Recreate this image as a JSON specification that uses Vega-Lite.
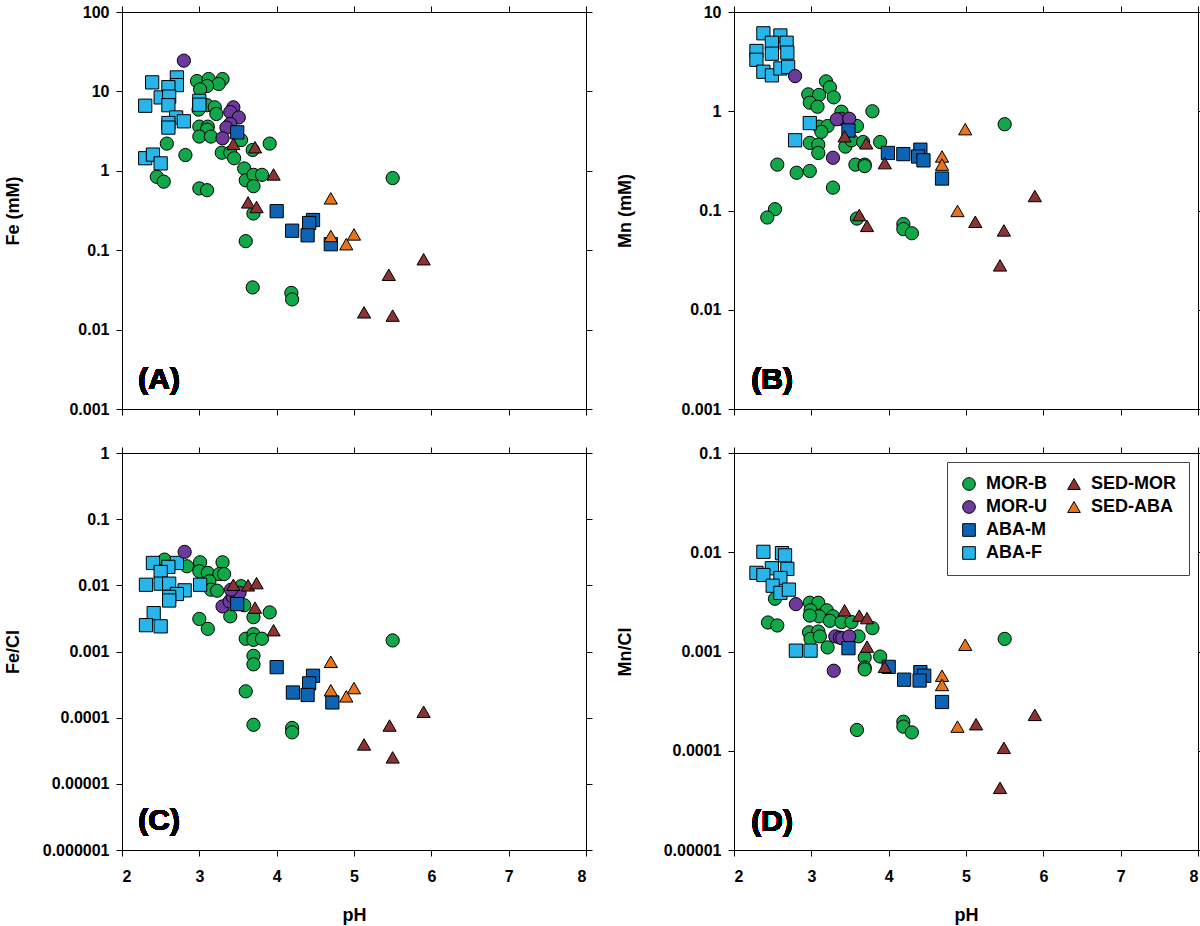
{
  "$schema": "https://vega.github.io/schema/vega-lite/v6.json",
  "padding": {"left": 3, "top": 3, "right": 0, "bottom": 0},
  "background": "white",
  "data": {"values": [
    {"p":"A","g":"MOR-B","pH":2.97,"v":13.5},{"p":"A","g":"MOR-B","pH":3.12,"v":14.3},{"p":"A","g":"MOR-B","pH":3.30,"v":14.3},{"p":"A","g":"MOR-B","pH":3.25,"v":12.4},{"p":"A","g":"MOR-B","pH":3.10,"v":11.7},{"p":"A","g":"MOR-B","pH":3.01,"v":10.6},{"p":"A","g":"MOR-B","pH":3.10,"v":6.7},{"p":"A","g":"MOR-B","pH":3.20,"v":6.3},{"p":"A","g":"MOR-B","pH":3.22,"v":5.2},{"p":"A","g":"MOR-B","pH":2.99,"v":5.9},{"p":"A","g":"MOR-B","pH":3.00,"v":3.6},{"p":"A","g":"MOR-B","pH":3.11,"v":3.6},{"p":"A","g":"MOR-B","pH":3.10,"v":3.3},{"p":"A","g":"MOR-B","pH":3.00,"v":2.7},{"p":"A","g":"MOR-B","pH":3.15,"v":2.7},{"p":"A","g":"MOR-B","pH":2.58,"v":2.2},{"p":"A","g":"MOR-B","pH":2.82,"v":1.58},{"p":"A","g":"MOR-B","pH":2.45,"v":0.84},{"p":"A","g":"MOR-B","pH":2.54,"v":0.73},{"p":"A","g":"MOR-B","pH":3.00,"v":0.60},{"p":"A","g":"MOR-B","pH":3.10,"v":0.57},{"p":"A","g":"MOR-B","pH":3.54,"v":2.44},{"p":"A","g":"MOR-B","pH":3.29,"v":1.69},{"p":"A","g":"MOR-B","pH":3.40,"v":1.69},{"p":"A","g":"MOR-B","pH":3.45,"v":1.44},{"p":"A","g":"MOR-B","pH":3.69,"v":1.83},{"p":"A","g":"MOR-B","pH":3.91,"v":2.2},{"p":"A","g":"MOR-B","pH":3.58,"v":1.07},{"p":"A","g":"MOR-B","pH":3.60,"v":0.76},{"p":"A","g":"MOR-B","pH":3.70,"v":0.89},{"p":"A","g":"MOR-B","pH":3.81,"v":0.89},{"p":"A","g":"MOR-B","pH":3.70,"v":0.64},{"p":"A","g":"MOR-B","pH":3.70,"v":0.29},{"p":"A","g":"MOR-B","pH":5.50,"v":0.81},{"p":"A","g":"MOR-B","pH":3.60,"v":0.13},{"p":"A","g":"MOR-B","pH":3.69,"v":0.034},{"p":"A","g":"MOR-B","pH":4.19,"v":0.029},{"p":"A","g":"MOR-B","pH":4.20,"v":0.024},
    {"p":"A","g":"ABA-F","pH":2.39,"v":13},{"p":"A","g":"ABA-F","pH":2.71,"v":15},{"p":"A","g":"ABA-F","pH":2.71,"v":12},{"p":"A","g":"ABA-F","pH":2.60,"v":11.3},{"p":"A","g":"ABA-F","pH":2.50,"v":8.4},{"p":"A","g":"ABA-F","pH":2.61,"v":8.6},{"p":"A","g":"ABA-F","pH":2.60,"v":6.7},{"p":"A","g":"ABA-F","pH":2.30,"v":6.6},{"p":"A","g":"ABA-F","pH":3.00,"v":7.6},{"p":"A","g":"ABA-F","pH":3.00,"v":6.8},{"p":"A","g":"ABA-F","pH":2.70,"v":4.7},{"p":"A","g":"ABA-F","pH":2.80,"v":4.2},{"p":"A","g":"ABA-F","pH":2.60,"v":4.0},{"p":"A","g":"ABA-F","pH":2.60,"v":3.5},{"p":"A","g":"ABA-F","pH":2.30,"v":1.44},{"p":"A","g":"ABA-F","pH":2.40,"v":1.6},{"p":"A","g":"ABA-F","pH":2.50,"v":1.24},
    {"p":"A","g":"MOR-U","pH":2.80,"v":24.4},{"p":"A","g":"MOR-U","pH":3.44,"v":6.3},{"p":"A","g":"MOR-U","pH":3.40,"v":5.5},{"p":"A","g":"MOR-U","pH":3.51,"v":4.7},{"p":"A","g":"MOR-U","pH":3.40,"v":3.9},{"p":"A","g":"MOR-U","pH":3.35,"v":3.5},{"p":"A","g":"MOR-U","pH":3.30,"v":2.57},
    {"p":"A","g":"ABA-M","pH":3.49,"v":3.05},{"p":"A","g":"ABA-M","pH":4.00,"v":0.31},{"p":"A","g":"ABA-M","pH":4.47,"v":0.24},{"p":"A","g":"ABA-M","pH":4.42,"v":0.22},{"p":"A","g":"ABA-M","pH":4.20,"v":0.176},{"p":"A","g":"ABA-M","pH":4.40,"v":0.154},{"p":"A","g":"ABA-M","pH":4.70,"v":0.119},
    {"p":"A","g":"SED-MOR","pH":3.44,"v":2.18},{"p":"A","g":"SED-MOR","pH":3.72,"v":1.98},{"p":"A","g":"SED-MOR","pH":3.96,"v":0.90},{"p":"A","g":"SED-MOR","pH":3.63,"v":0.40},{"p":"A","g":"SED-MOR","pH":3.74,"v":0.35},{"p":"A","g":"SED-MOR","pH":5.90,"v":0.077},{"p":"A","g":"SED-MOR","pH":5.45,"v":0.049},{"p":"A","g":"SED-MOR","pH":5.13,"v":0.0165},{"p":"A","g":"SED-MOR","pH":5.50,"v":0.015},
    {"p":"A","g":"SED-ABA","pH":4.70,"v":0.45},{"p":"A","g":"SED-ABA","pH":4.70,"v":0.151},{"p":"A","g":"SED-ABA","pH":5.00,"v":0.158},{"p":"A","g":"SED-ABA","pH":4.90,"v":0.119},

    {"p":"B","g":"MOR-B","pH":3.19,"v":2.0},{"p":"B","g":"MOR-B","pH":3.24,"v":1.74},{"p":"B","g":"MOR-B","pH":2.96,"v":1.48},{"p":"B","g":"MOR-B","pH":3.10,"v":1.46},{"p":"B","g":"MOR-B","pH":3.29,"v":1.38},{"p":"B","g":"MOR-B","pH":2.98,"v":1.22},{"p":"B","g":"MOR-B","pH":3.08,"v":1.11},{"p":"B","g":"MOR-B","pH":3.79,"v":1.0},{"p":"B","g":"MOR-B","pH":3.39,"v":0.99},{"p":"B","g":"MOR-B","pH":3.59,"v":0.71},{"p":"B","g":"MOR-B","pH":3.10,"v":0.70},{"p":"B","g":"MOR-B","pH":3.21,"v":0.71},{"p":"B","g":"MOR-B","pH":3.13,"v":0.62},{"p":"B","g":"MOR-B","pH":2.98,"v":0.48},{"p":"B","g":"MOR-B","pH":3.09,"v":0.46},{"p":"B","g":"MOR-B","pH":3.09,"v":0.38},{"p":"B","g":"MOR-B","pH":3.44,"v":0.44},{"p":"B","g":"MOR-B","pH":3.52,"v":0.51},{"p":"B","g":"MOR-B","pH":3.67,"v":0.49},{"p":"B","g":"MOR-B","pH":3.89,"v":0.49},{"p":"B","g":"MOR-B","pH":2.56,"v":0.29},{"p":"B","g":"MOR-B","pH":2.81,"v":0.24},{"p":"B","g":"MOR-B","pH":2.98,"v":0.25},{"p":"B","g":"MOR-B","pH":3.28,"v":0.17},{"p":"B","g":"MOR-B","pH":3.57,"v":0.29},{"p":"B","g":"MOR-B","pH":3.69,"v":0.29},{"p":"B","g":"MOR-B","pH":3.69,"v":0.28},{"p":"B","g":"MOR-B","pH":2.53,"v":0.103},{"p":"B","g":"MOR-B","pH":2.43,"v":0.085},{"p":"B","g":"MOR-B","pH":3.59,"v":0.083},{"p":"B","g":"MOR-B","pH":4.19,"v":0.073},{"p":"B","g":"MOR-B","pH":4.19,"v":0.065},{"p":"B","g":"MOR-B","pH":4.30,"v":0.059},{"p":"B","g":"MOR-B","pH":5.50,"v":0.74},
    {"p":"B","g":"ABA-F","pH":2.38,"v":6.1},{"p":"B","g":"ABA-F","pH":2.60,"v":5.8},{"p":"B","g":"ABA-F","pH":2.49,"v":4.9},{"p":"B","g":"ABA-F","pH":2.68,"v":4.9},{"p":"B","g":"ABA-F","pH":2.29,"v":4.05},{"p":"B","g":"ABA-F","pH":2.49,"v":3.8},{"p":"B","g":"ABA-F","pH":2.69,"v":3.9},{"p":"B","g":"ABA-F","pH":2.29,"v":3.3},{"p":"B","g":"ABA-F","pH":2.38,"v":2.5},{"p":"B","g":"ABA-F","pH":2.49,"v":2.3},{"p":"B","g":"ABA-F","pH":2.60,"v":2.7},{"p":"B","g":"ABA-F","pH":2.70,"v":2.8},{"p":"B","g":"ABA-F","pH":2.98,"v":0.76},{"p":"B","g":"ABA-F","pH":2.79,"v":0.51},
    {"p":"B","g":"MOR-U","pH":2.79,"v":2.26},{"p":"B","g":"MOR-U","pH":3.39,"v":0.84},{"p":"B","g":"MOR-U","pH":3.33,"v":0.83},{"p":"B","g":"MOR-U","pH":3.49,"v":0.84},{"p":"B","g":"MOR-U","pH":3.28,"v":0.34},
    {"p":"B","g":"ABA-M","pH":3.48,"v":0.64},{"p":"B","g":"ABA-M","pH":3.99,"v":0.38},{"p":"B","g":"ABA-M","pH":4.19,"v":0.37},{"p":"B","g":"ABA-M","pH":4.41,"v":0.41},{"p":"B","g":"ABA-M","pH":4.38,"v":0.35},{"p":"B","g":"ABA-M","pH":4.45,"v":0.32},{"p":"B","g":"ABA-M","pH":4.69,"v":0.21},
    {"p":"B","g":"SED-MOR","pH":3.43,"v":0.56},{"p":"B","g":"SED-MOR","pH":3.71,"v":0.475},{"p":"B","g":"SED-MOR","pH":3.95,"v":0.30},{"p":"B","g":"SED-MOR","pH":3.62,"v":0.090},{"p":"B","g":"SED-MOR","pH":3.72,"v":0.070},{"p":"B","g":"SED-MOR","pH":5.12,"v":0.077},{"p":"B","g":"SED-MOR","pH":5.49,"v":0.063},{"p":"B","g":"SED-MOR","pH":5.89,"v":0.14},{"p":"B","g":"SED-MOR","pH":5.44,"v":0.028},
    {"p":"B","g":"SED-ABA","pH":4.99,"v":0.66},{"p":"B","g":"SED-ABA","pH":4.69,"v":0.35},{"p":"B","g":"SED-ABA","pH":4.69,"v":0.29},{"p":"B","g":"SED-ABA","pH":4.89,"v":0.099},

    {"p":"C","g":"MOR-B","pH":2.55,"v":0.0245},{"p":"C","g":"MOR-B","pH":2.84,"v":0.0194},{"p":"C","g":"MOR-B","pH":3.01,"v":0.0223},{"p":"C","g":"MOR-B","pH":3.30,"v":0.0223},{"p":"C","g":"MOR-B","pH":3.00,"v":0.0163},{"p":"C","g":"MOR-B","pH":3.11,"v":0.0154},{"p":"C","g":"MOR-B","pH":3.26,"v":0.0148},{"p":"C","g":"MOR-B","pH":3.32,"v":0.0148},{"p":"C","g":"MOR-B","pH":3.13,"v":0.0115},{"p":"C","g":"MOR-B","pH":3.15,"v":0.0086},{"p":"C","g":"MOR-B","pH":3.23,"v":0.0083},{"p":"C","g":"MOR-B","pH":3.54,"v":0.0097},{"p":"C","g":"MOR-B","pH":3.58,"v":0.0050},{"p":"C","g":"MOR-B","pH":3.40,"v":0.0034},{"p":"C","g":"MOR-B","pH":3.70,"v":0.0033},{"p":"C","g":"MOR-B","pH":3.91,"v":0.0039},{"p":"C","g":"MOR-B","pH":3.00,"v":0.0031},{"p":"C","g":"MOR-B","pH":3.11,"v":0.0022},{"p":"C","g":"MOR-B","pH":3.60,"v":0.00156},{"p":"C","g":"MOR-B","pH":3.70,"v":0.00183},{"p":"C","g":"MOR-B","pH":3.70,"v":0.0015},{"p":"C","g":"MOR-B","pH":3.81,"v":0.00156},{"p":"C","g":"MOR-B","pH":3.70,"v":0.00086},{"p":"C","g":"MOR-B","pH":3.70,"v":0.00064},{"p":"C","g":"MOR-B","pH":3.60,"v":0.00025},{"p":"C","g":"MOR-B","pH":5.50,"v":0.00147},{"p":"C","g":"MOR-B","pH":3.70,"v":0.000078},{"p":"C","g":"MOR-B","pH":4.20,"v":0.00007},{"p":"C","g":"MOR-B","pH":4.20,"v":0.00006},
    {"p":"C","g":"ABA-F","pH":2.40,"v":0.0218},{"p":"C","g":"ABA-F","pH":2.71,"v":0.0218},{"p":"C","g":"ABA-F","pH":2.60,"v":0.019},{"p":"C","g":"ABA-F","pH":2.50,"v":0.0159},{"p":"C","g":"ABA-F","pH":2.31,"v":0.0102},{"p":"C","g":"ABA-F","pH":2.50,"v":0.0106},{"p":"C","g":"ABA-F","pH":2.61,"v":0.0106},{"p":"C","g":"ABA-F","pH":3.01,"v":0.0102},{"p":"C","g":"ABA-F","pH":2.81,"v":0.0084},{"p":"C","g":"ABA-F","pH":2.71,"v":0.0074},{"p":"C","g":"ABA-F","pH":2.61,"v":0.0067},{"p":"C","g":"ABA-F","pH":2.61,"v":0.0059},{"p":"C","g":"ABA-F","pH":2.41,"v":0.0038},{"p":"C","g":"ABA-F","pH":2.31,"v":0.0025},{"p":"C","g":"ABA-F","pH":2.50,"v":0.0024},
    {"p":"C","g":"MOR-U","pH":2.81,"v":0.032},{"p":"C","g":"MOR-U","pH":3.30,"v":0.0048},{"p":"C","g":"MOR-U","pH":3.39,"v":0.0057},{"p":"C","g":"MOR-U","pH":3.43,"v":0.0068},{"p":"C","g":"MOR-U","pH":3.52,"v":0.0077},{"p":"C","g":"MOR-U","pH":3.41,"v":0.0086},
    {"p":"C","g":"ABA-M","pH":3.49,"v":0.0052},{"p":"C","g":"ABA-M","pH":4.00,"v":0.00058},{"p":"C","g":"ABA-M","pH":4.47,"v":0.00043},{"p":"C","g":"ABA-M","pH":4.42,"v":0.00033},{"p":"C","g":"ABA-M","pH":4.21,"v":0.00024},{"p":"C","g":"ABA-M","pH":4.40,"v":0.00022},{"p":"C","g":"ABA-M","pH":4.72,"v":0.00017},
    {"p":"C","g":"SED-MOR","pH":3.44,"v":0.0102},{"p":"C","g":"SED-MOR","pH":3.63,"v":0.0100},{"p":"C","g":"SED-MOR","pH":3.74,"v":0.0108},{"p":"C","g":"SED-MOR","pH":3.72,"v":0.0046},{"p":"C","g":"SED-MOR","pH":3.96,"v":0.0021},{"p":"C","g":"SED-MOR","pH":5.90,"v":0.000123},{"p":"C","g":"SED-MOR","pH":5.46,"v":0.000076},{"p":"C","g":"SED-MOR","pH":5.13,"v":0.0000394},{"p":"C","g":"SED-MOR","pH":5.50,"v":0.0000251},
    {"p":"C","g":"SED-ABA","pH":4.70,"v":0.0007},{"p":"C","g":"SED-ABA","pH":4.70,"v":0.00026},{"p":"C","g":"SED-ABA","pH":5.00,"v":0.00028},{"p":"C","g":"SED-ABA","pH":4.90,"v":0.00021},

    {"p":"D","g":"MOR-B","pH":2.53,"v":0.0034},{"p":"D","g":"MOR-B","pH":2.44,"v":0.00196},{"p":"D","g":"MOR-B","pH":2.56,"v":0.00183},{"p":"D","g":"MOR-B","pH":2.98,"v":0.0031},{"p":"D","g":"MOR-B","pH":3.09,"v":0.0031},{"p":"D","g":"MOR-B","pH":2.99,"v":0.0026},{"p":"D","g":"MOR-B","pH":3.20,"v":0.0026},{"p":"D","g":"MOR-B","pH":3.10,"v":0.00226},{"p":"D","g":"MOR-B","pH":3.28,"v":0.00226},{"p":"D","g":"MOR-B","pH":2.98,"v":0.0023},{"p":"D","g":"MOR-B","pH":3.24,"v":0.00204},{"p":"D","g":"MOR-B","pH":3.39,"v":0.00198},{"p":"D","g":"MOR-B","pH":3.52,"v":0.00198},{"p":"D","g":"MOR-B","pH":3.79,"v":0.00172},{"p":"D","g":"MOR-B","pH":2.97,"v":0.00156},{"p":"D","g":"MOR-B","pH":3.09,"v":0.00159},{"p":"D","g":"MOR-B","pH":2.99,"v":0.00134},{"p":"D","g":"MOR-B","pH":3.11,"v":0.00142},{"p":"D","g":"MOR-B","pH":3.61,"v":0.00142},{"p":"D","g":"MOR-B","pH":3.21,"v":0.0011},{"p":"D","g":"MOR-B","pH":3.69,"v":0.00087},{"p":"D","g":"MOR-B","pH":3.69,"v":0.00069},{"p":"D","g":"MOR-B","pH":3.69,"v":0.00066},{"p":"D","g":"MOR-B","pH":3.89,"v":0.00089},{"p":"D","g":"MOR-B","pH":3.59,"v":0.000162},{"p":"D","g":"MOR-B","pH":4.19,"v":0.000196},{"p":"D","g":"MOR-B","pH":4.19,"v":0.000175},{"p":"D","g":"MOR-B","pH":4.30,"v":0.000153},{"p":"D","g":"MOR-B","pH":5.50,"v":0.00134},
    {"p":"D","g":"ABA-F","pH":2.38,"v":0.0101},{"p":"D","g":"ABA-F","pH":2.62,"v":0.0098},{"p":"D","g":"ABA-F","pH":2.66,"v":0.0093},{"p":"D","g":"ABA-F","pH":2.29,"v":0.0062},{"p":"D","g":"ABA-F","pH":2.49,"v":0.0069},{"p":"D","g":"ABA-F","pH":2.69,"v":0.0068},{"p":"D","g":"ABA-F","pH":2.38,"v":0.0059},{"p":"D","g":"ABA-F","pH":2.60,"v":0.0055},{"p":"D","g":"ABA-F","pH":2.50,"v":0.0046},{"p":"D","g":"ABA-F","pH":2.60,"v":0.0039},{"p":"D","g":"ABA-F","pH":2.71,"v":0.0042},{"p":"D","g":"ABA-F","pH":2.80,"v":0.00102},{"p":"D","g":"ABA-F","pH":2.99,"v":0.00102},
    {"p":"D","g":"MOR-U","pH":2.80,"v":0.0030},{"p":"D","g":"MOR-U","pH":3.31,"v":0.00142},{"p":"D","g":"MOR-U","pH":3.37,"v":0.00138},{"p":"D","g":"MOR-U","pH":3.40,"v":0.00136},{"p":"D","g":"MOR-U","pH":3.49,"v":0.00142},{"p":"D","g":"MOR-U","pH":3.29,"v":0.00064},
    {"p":"D","g":"ABA-M","pH":3.48,"v":0.00108},{"p":"D","g":"ABA-M","pH":4.00,"v":0.0007},{"p":"D","g":"ABA-M","pH":4.20,"v":0.00052},{"p":"D","g":"ABA-M","pH":4.41,"v":0.00062},{"p":"D","g":"ABA-M","pH":4.46,"v":0.00057},{"p":"D","g":"ABA-M","pH":4.40,"v":0.00051},{"p":"D","g":"ABA-M","pH":4.69,"v":0.00031},
    {"p":"D","g":"SED-MOR","pH":3.43,"v":0.0026},{"p":"D","g":"SED-MOR","pH":3.62,"v":0.0023},{"p":"D","g":"SED-MOR","pH":3.72,"v":0.00217},{"p":"D","g":"SED-MOR","pH":3.72,"v":0.00112},{"p":"D","g":"SED-MOR","pH":3.95,"v":0.0007},{"p":"D","g":"SED-MOR","pH":5.13,"v":0.000185},{"p":"D","g":"SED-MOR","pH":5.89,"v":0.00023},{"p":"D","g":"SED-MOR","pH":5.49,"v":0.000107},{"p":"D","g":"SED-MOR","pH":5.44,"v":0.0000423},
    {"p":"D","g":"SED-ABA","pH":4.99,"v":0.00117},{"p":"D","g":"SED-ABA","pH":4.69,"v":0.00057},{"p":"D","g":"SED-ABA","pH":4.69,"v":0.00046},{"p":"D","g":"SED-ABA","pH":4.89,"v":0.000175}
  ]},
  "columns": 2,
  "spacing": {"row": 26, "column": 22},
  "resolve": {"legend": {"color": "independent", "shape": "independent"}},
  "concat": [
    {
      "width": 464, "height": 397,
      "transform": [{"filter": "datum.p === 'A'"}],
      "layer": [
        {"mark": {"type": "point", "filled": true, "stroke": "black", "strokeWidth": 1, "opacity": 1, "size": 175},
         "encoding": {
           "x": {"field": "pH", "type": "quantitative", "scale": {"domain": [2, 8], "nice": false, "zero": false}, "axis": {"orient": "bottom", "values": [2,3,4,5,6,7,8], "labels": false, "title": null, "minExtent": 0}},
           "y": {"field": "v", "type": "quantitative", "scale": {"type": "log", "domain": [0.001, 100], "nice": false}, "axis": {"orient": "left", "values": [0.001,0.01,0.1,1,10,100], "labelExpr": "format(datum.value, '~f')", "title": "Fe (mM)", "labelPadding": 7, "minExtent": 90, "maxExtent": 90, "titlePadding": 10}},
           "color": {"field": "g", "type": "nominal", "scale": {"domain": ["MOR-B","MOR-U","ABA-M","ABA-F","SED-MOR","SED-ABA"," ","  "], "range": ["#12a84a","#6b3a9b","#0e64b4","#27b5ea","#8b3232","#e8731a","#ffffff","#ffffff"]}, "legend": null},
           "shape": {"field": "g", "type": "nominal", "scale": {"domain": ["MOR-B","MOR-U","ABA-M","ABA-F","SED-MOR","SED-ABA"," ","  "], "range": ["circle","circle","square","square","triangle-up","triangle-up","M0,0","M0,0"]}, "legend": null}
         }},
        {"mark": {"type": "point", "opacity": 0},
         "encoding": {
           "x": {"field": "pH", "type": "quantitative", "axis": {"orient": "top", "values": [2,3,4,5,6,7,8], "labels": false, "title": null, "minExtent": 0}},
           "y": {"field": "v", "type": "quantitative", "axis": {"orient": "right", "values": [0.001,0.01,0.1,1,10,100], "labels": false, "title": null, "minExtent": 0}}
         }},
        {"mark": {"type": "text", "align": "left", "baseline": "middle", "fontSize": 30, "fontWeight": "bold", "font": "Liberation Sans", "color": "black"},
         "encoding": {
           "x": {"datum": 2.21, "type": "quantitative", "axis": null},
           "y": {"datum": 0.0023, "type": "quantitative", "axis": null},
           "text": {"value": "(A)"}
         }}
      ],
      "resolve": {"axis": {"x": "independent", "y": "independent"}}
    },
    {
      "width": 464, "height": 397,
      "transform": [{"filter": "datum.p === 'B'"}],
      "layer": [
        {"mark": {"type": "point", "filled": true, "stroke": "black", "strokeWidth": 1, "opacity": 1, "size": 175},
         "encoding": {
           "x": {"field": "pH", "type": "quantitative", "scale": {"domain": [2, 8], "nice": false, "zero": false}, "axis": {"orient": "bottom", "values": [2,3,4,5,6,7,8], "labels": false, "title": null, "minExtent": 0}},
           "y": {"field": "v", "type": "quantitative", "scale": {"type": "log", "domain": [0.001, 10], "nice": false}, "axis": {"orient": "left", "values": [0.001,0.01,0.1,1,10], "labelExpr": "format(datum.value, '~f')", "title": "Mn (mM)", "labelPadding": 7, "minExtent": 90, "maxExtent": 90, "titlePadding": 10}},
           "color": {"field": "g", "type": "nominal", "scale": {"domain": ["MOR-B","MOR-U","ABA-M","ABA-F","SED-MOR","SED-ABA"," ","  "], "range": ["#12a84a","#6b3a9b","#0e64b4","#27b5ea","#8b3232","#e8731a","#ffffff","#ffffff"]}, "legend": null},
           "shape": {"field": "g", "type": "nominal", "scale": {"domain": ["MOR-B","MOR-U","ABA-M","ABA-F","SED-MOR","SED-ABA"," ","  "], "range": ["circle","circle","square","square","triangle-up","triangle-up","M0,0","M0,0"]}, "legend": null}
         }},
        {"mark": {"type": "point", "opacity": 0},
         "encoding": {
           "x": {"field": "pH", "type": "quantitative", "axis": {"orient": "top", "values": [2,3,4,5,6,7,8], "labels": false, "title": null, "minExtent": 0}},
           "y": {"field": "v", "type": "quantitative", "axis": {"orient": "right", "values": [0.001,0.01,0.1,1,10], "labels": false, "title": null, "minExtent": 0}}
         }},
        {"mark": {"type": "text", "align": "left", "baseline": "middle", "fontSize": 30, "fontWeight": "bold", "font": "Liberation Sans", "color": "black"},
         "encoding": {
           "x": {"datum": 2.224, "type": "quantitative", "axis": null},
           "y": {"datum": 0.00196, "type": "quantitative", "axis": null},
           "text": {"value": "(B)"}
         }}
      ],
      "resolve": {"axis": {"x": "independent", "y": "independent"}}
    },
    {
      "width": 464, "height": 397,
      "transform": [{"filter": "datum.p === 'C'"}],
      "layer": [
        {"mark": {"type": "point", "filled": true, "stroke": "black", "strokeWidth": 1, "opacity": 1, "size": 175},
         "encoding": {
           "x": {"field": "pH", "type": "quantitative", "scale": {"domain": [2, 8], "nice": false, "zero": false}, "axis": {"orient": "bottom", "values": [2,3,4,5,6,7,8], "title": "pH", "labelPadding": 12, "titlePadding": 22}},
           "y": {"field": "v", "type": "quantitative", "scale": {"type": "log", "domain": [0.000001, 1], "nice": false}, "axis": {"orient": "left", "values": [0.000001,0.00001,0.0001,0.001,0.01,0.1,1], "labelExpr": "format(datum.value, '~f')", "title": "Fe/Cl", "labelPadding": 7, "minExtent": 90, "maxExtent": 90, "titlePadding": 10}},
           "color": {"field": "g", "type": "nominal", "scale": {"domain": ["MOR-B","MOR-U","ABA-M","ABA-F","SED-MOR","SED-ABA"," ","  "], "range": ["#12a84a","#6b3a9b","#0e64b4","#27b5ea","#8b3232","#e8731a","#ffffff","#ffffff"]}, "legend": null},
           "shape": {"field": "g", "type": "nominal", "scale": {"domain": ["MOR-B","MOR-U","ABA-M","ABA-F","SED-MOR","SED-ABA"," ","  "], "range": ["circle","circle","square","square","triangle-up","triangle-up","M0,0","M0,0"]}, "legend": null}
         }},
        {"mark": {"type": "point", "opacity": 0},
         "encoding": {
           "x": {"field": "pH", "type": "quantitative", "axis": {"orient": "top", "values": [2,3,4,5,6,7,8], "labels": false, "title": null, "minExtent": 0}},
           "y": {"field": "v", "type": "quantitative", "axis": {"orient": "right", "values": [0.000001,0.00001,0.0001,0.001,0.01,0.1,1], "labels": false, "title": null, "minExtent": 0}}
         }},
        {"mark": {"type": "text", "align": "left", "baseline": "middle", "fontSize": 30, "fontWeight": "bold", "font": "Liberation Sans", "color": "black"},
         "encoding": {
           "x": {"datum": 2.21, "type": "quantitative", "axis": null},
           "y": {"datum": 0.0000027, "type": "quantitative", "axis": null},
           "text": {"value": "(C)"}
         }}
      ],
      "resolve": {"axis": {"x": "independent", "y": "independent"}}
    },
    {
      "width": 464, "height": 397,
      "transform": [{"filter": "datum.p === 'D'"}],
      "layer": [
        {"mark": {"type": "point", "filled": true, "stroke": "black", "strokeWidth": 1, "opacity": 1, "size": 175},
         "encoding": {
           "x": {"field": "pH", "type": "quantitative", "scale": {"domain": [2, 8], "nice": false, "zero": false}, "axis": {"orient": "bottom", "values": [2,3,4,5,6,7,8], "title": "pH", "labelPadding": 12, "titlePadding": 22}},
           "y": {"field": "v", "type": "quantitative", "scale": {"type": "log", "domain": [0.00001, 0.1], "nice": false}, "axis": {"orient": "left", "values": [0.00001,0.0001,0.001,0.01,0.1], "labelExpr": "format(datum.value, '~f')", "title": "Mn/Cl", "labelPadding": 7, "minExtent": 90, "maxExtent": 90, "titlePadding": 10}},
           "color": {"field": "g", "type": "nominal", "scale": {"domain": ["MOR-B","MOR-U","ABA-M","ABA-F","SED-MOR","SED-ABA"," ","  "], "range": ["#12a84a","#6b3a9b","#0e64b4","#27b5ea","#8b3232","#e8731a","#ffffff","#ffffff"]},
             "legend": {"orient": "top-right", "offset": 9, "columns": 2, "gridAlign": "each", "title": null, "labelFontSize": 18, "labelFont": "Liberation Sans", "labelFontWeight": "bold", "labelColor": "black", "symbolSize": 160, "symbolStrokeWidth": 1, "symbolStrokeColor": "black", "padding": 13, "strokeColor": "#444444", "fillColor": "white", "rowPadding": 5, "columnPadding": 18, "labelOffset": 8}},
           "shape": {"field": "g", "type": "nominal", "scale": {"domain": ["MOR-B","MOR-U","ABA-M","ABA-F","SED-MOR","SED-ABA"," ","  "], "range": ["circle","circle","square","square","triangle-up","triangle-up","M0,0","M0,0"]},
             "legend": {"orient": "top-right", "offset": 9, "columns": 2, "gridAlign": "each", "title": null, "labelFontSize": 18, "labelFont": "Liberation Sans", "labelFontWeight": "bold", "labelColor": "black", "symbolSize": 160, "symbolStrokeWidth": 1, "symbolStrokeColor": "black", "padding": 13, "strokeColor": "#444444", "fillColor": "white", "rowPadding": 5, "columnPadding": 18, "labelOffset": 8}}
         }},
        {"mark": {"type": "point", "opacity": 0},
         "encoding": {
           "x": {"field": "pH", "type": "quantitative", "axis": {"orient": "top", "values": [2,3,4,5,6,7,8], "labels": false, "title": null, "minExtent": 0}},
           "y": {"field": "v", "type": "quantitative", "axis": {"orient": "right", "values": [0.00001,0.0001,0.001,0.01,0.1], "labels": false, "title": null, "minExtent": 0}}
         }},
        {"mark": {"type": "text", "align": "left", "baseline": "middle", "fontSize": 30, "fontWeight": "bold", "font": "Liberation Sans", "color": "black"},
         "encoding": {
           "x": {"datum": 2.224, "type": "quantitative", "axis": null},
           "y": {"datum": 0.0000192, "type": "quantitative", "axis": null},
           "text": {"value": "(D)"}
         }}
      ],
      "resolve": {"axis": {"x": "independent", "y": "independent"}}
    }
  ],
  "config": {
    "font": "Liberation Sans",
    "view": {"stroke": "black", "strokeWidth": 1},
    "axis": {"domain": false, "grid": false, "ticks": true, "tickColor": "black", "tickSize": 6, "tickWidth": 1, "labelFont": "Liberation Sans", "labelFontWeight": "bold", "labelFontSize": 16, "labelColor": "black", "titleFont": "Liberation Sans", "titleFontWeight": "bold", "titleFontSize": 18, "titleColor": "black"}
  }
}
